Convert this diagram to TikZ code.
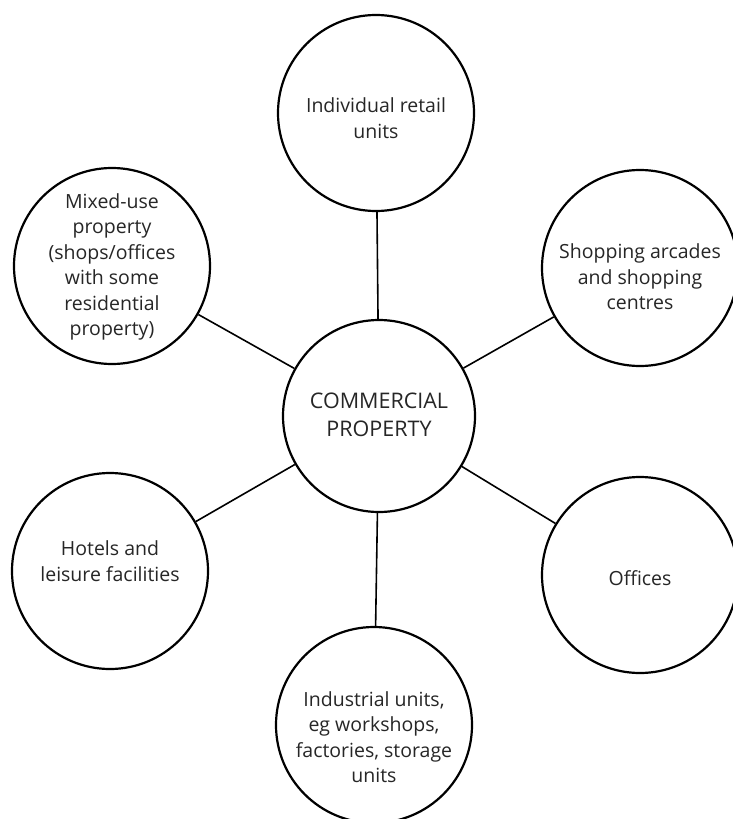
\documentclass[tikz,border=0pt]{standalone}
\usepackage{fontspec}
\setmainfont{Open Sans}
\begin{document}
\begin{tikzpicture}[x=1bp,y=-1bp,
  bub/.style={circle,draw=black,line width=2.2bp,minimum size=196bp,inner sep=0pt},
  hub/.style={circle,draw=black,line width=2.2bp,minimum size=192bp,inner sep=0pt},
  txt/.style={align=center,text=black!85,font=\fontsize{19.5bp}{25.5bp}\selectfont,inner sep=0pt},
  hubtxt/.style={txt,font=\fontsize{21.5bp}{28bp}\selectfont},
  link/.style={draw=black,line width=1.6bp}]
\useasboundingbox (0,0) rectangle (733,819);
\node[hub] (c) at (379,416) {};
\node[bub] (t) at (376,113) {};
\node[bub] (tl) at (112,266) {};
\node[bub] (tr) at (640,268) {};
\node[bub] (l) at (110,571) {};
\node[bub] (r) at (640,575) {};
\node[bub] (b) at (374,725) {};
\node[hubtxt] (ct) at (379,415) {COMMERCIAL\\PROPERTY};
\node[txt] (tt) at (376,118) {Individual retail\\units};
\node[txt] (tlt) at (112,267) {Mixed-use\\property\\(shops/offices\\with some\\residential\\property)};
\node[txt] (trt) at (640,277) {Shopping arcades\\and shopping\\centres};
\node[txt] (lt) at (110,561) {Hotels and\\leisure facilities};
\node[txt] (rt) at (640,578) {Offices};
\node[txt] (bt) at (374,737) {Industrial units,\\eg workshops,\\factories, storage\\units};
\draw[link] (c) -- (t);
\draw[link] (c) -- (tl);
\draw[link] (c) -- (tr);
\draw[link] (c) -- (l);
\draw[link] (c) -- (r);
\draw[link] (c) -- (b);
\end{tikzpicture}
\end{document}
